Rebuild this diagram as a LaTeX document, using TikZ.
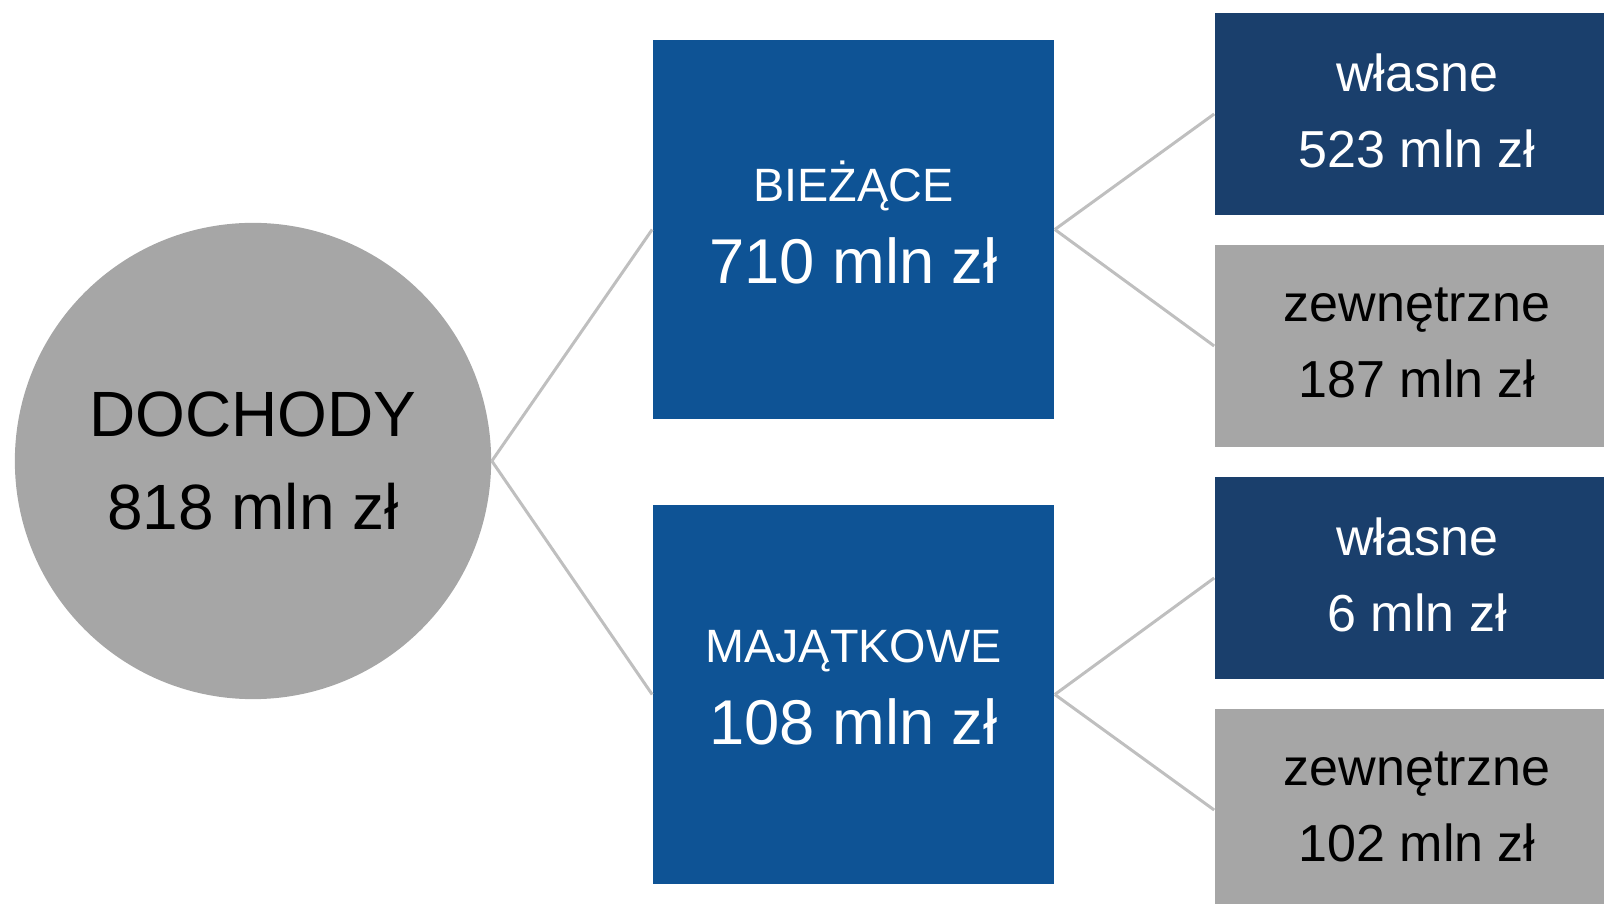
\documentclass[tikz,border=0pt]{standalone}
\usepackage{fontspec}
\setmainfont{Liberation Sans}

\definecolor{bluebox}{HTML}{0E5395}
\definecolor{navybox}{HTML}{1A3F6C}
\definecolor{greybox}{HTML}{A6A6A6}
\definecolor{linkgrey}{HTML}{BFBFBF}

\begin{document}
\begin{tikzpicture}[x=0.01cm,y=-0.01cm,
    total/.style={circle,fill=greybox,minimum size=4.76cm,inner sep=0pt,align=center,
      font=\fontsize{18.2}{26.5}\selectfont},
    part/.style={rectangle,fill=bluebox,text=white,minimum width=4.01cm,minimum height=3.79cm,
      inner sep=0pt,align=center,text depth=4pt,font=\fontsize{18}{23.3}\selectfont},
    own/.style={rectangle,fill=navybox,text=white,minimum width=4.04cm,minimum height=2.02cm,
      inner sep=0pt,align=center,text depth=1.7pt,font=\fontsize{14.8}{21.6}\selectfont},
    ext/.style={own,fill=greybox,text=black},
    link/.style={draw=linkgrey,line width=0.85pt}]

      \useasboundingbox (0,0) rectangle (1604,904);

      % Total
      \node[total] (dochody) at (253,461) {DOCHODY\\818 mln zł};

      % Parts
      \node[part] (biezace) at (853.5,229.5) {{\fontsize{13.3}{23.3}\selectfont BIEŻĄCE}\\710 mln zł};
      \node[part] (majatkowe) at (853.5,694.5) {{\fontsize{13.3}{23.3}\selectfont MAJĄTKOWE}\\108 mln zł};

      % Sources
      \node[own] (wlasne1) at (1417,114) {własne\\523 mln zł};
      \node[ext] (zewn1) at (1417,346) {zewnętrzne\\187 mln zł};
      \node[own] (wlasne2) at (1417,578) {własne\\6 mln zł};
      \node[ext] (zewn2) at (1417,810) {zewnętrzne\\102 mln zł};

      % Links
      \draw[link] (dochody.east) -- (biezace.west);
      \draw[link] (dochody.east) -- (majatkowe.west);
      \draw[link] (biezace.east) -- (wlasne1.west);
      \draw[link] (biezace.east) -- (zewn1.west);
      \draw[link] (majatkowe.east) -- (wlasne2.west);
      \draw[link] (majatkowe.east) -- (zewn2.west);

\end{tikzpicture}
\end{document}
